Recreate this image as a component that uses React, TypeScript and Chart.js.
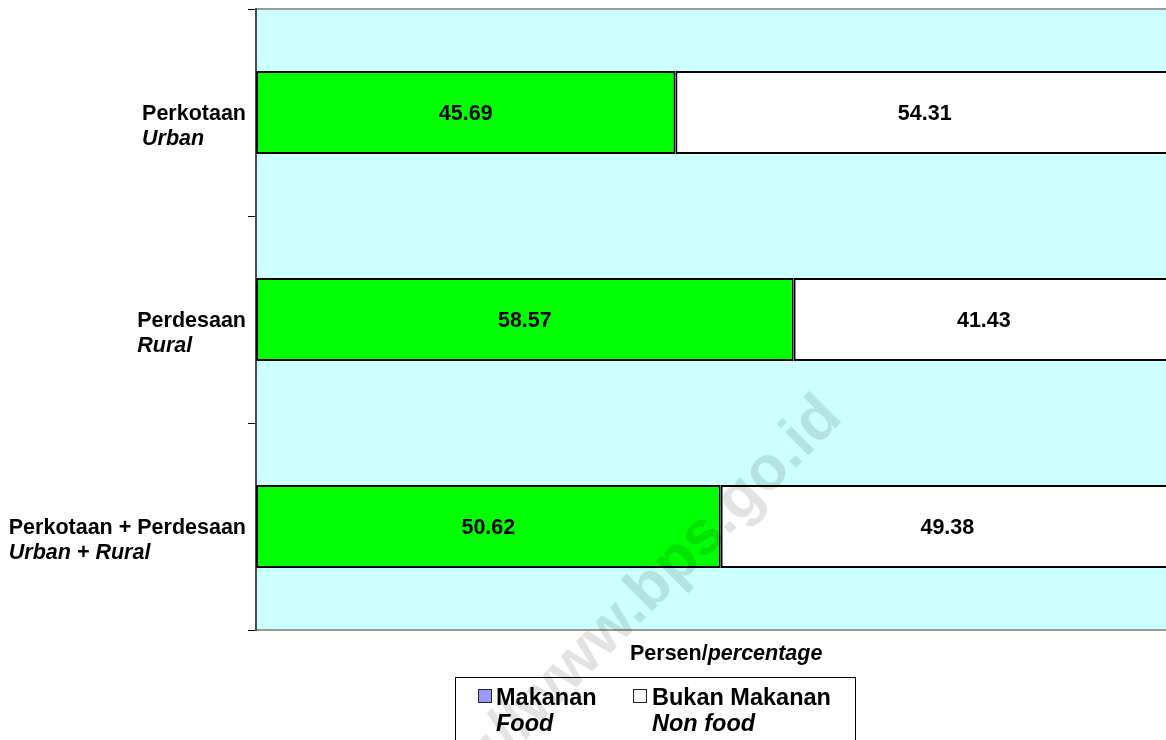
import React, { useEffect, useRef } from "react";
import { Chart, registerables } from "chart.js";

Chart.register(...registerables);

const categoriesMain = ["Perkotaan", "Perdesaan", "Perkotaan + Perdesaan"];
const categoriesSub = ["Urban", "Rural", "Urban + Rural"];
const foodValues = [45.69, 58.57, 50.62];
const nonFoodValues = [54.31, 41.43, 49.38];
const seriesMain = ["Makanan", "Bukan Makanan"];
const seriesSub = ["Food", "Non food"];
const axisTitleMain = "Persen/";
const axisTitleSub = "percentage";
const watermarkText = "http://www.bps.go.id";

const FONT = "'Liberation Sans', Arial, Helvetica, sans-serif";

const decorPlugin = {
  id: "decor",
  beforeDraw(chart: any) {
    const { ctx, chartArea } = chart;
    ctx.save();
    ctx.fillStyle = "#CCFFFF";
    ctx.fillRect(chartArea.left, chartArea.top, chartArea.right - chartArea.left, chartArea.bottom - chartArea.top);
    ctx.strokeStyle = "#999999";
    ctx.lineWidth = 2;
    ctx.beginPath();
    ctx.moveTo(chartArea.left, chartArea.top);
    ctx.lineTo(chartArea.right, chartArea.top);
    ctx.moveTo(chartArea.left, chartArea.bottom);
    ctx.lineTo(chartArea.right, chartArea.bottom);
    ctx.stroke();
    ctx.restore();
  },
  afterDatasetsDraw(chart: any) {
    const { ctx } = chart;
    ctx.save();
    ctx.font = `bold 21.5px ${FONT}`;
    ctx.fillStyle = "#000";
    ctx.textAlign = "center";
    ctx.textBaseline = "alphabetic";
    chart.data.datasets.forEach((ds: any, di: number) => {
      const meta = chart.getDatasetMeta(di);
      meta.data.forEach((el: any, i: number) => {
        const cx = (el.x + el.base) / 2;
        ctx.fillText(Number(ds.data[i]).toFixed(2), cx, el.y + 7);
      });
    });
    ctx.restore();
  },
  afterDraw(chart: any) {
    const { ctx, scales } = chart;
    const y = scales.y;
    ctx.save();
    ctx.fillStyle = "#000";
    ctx.textBaseline = "alphabetic";
    ctx.textAlign = "left";
    // category labels
    categoriesMain.forEach((main, i) => {
      const cy = y.getPixelForValue(i);
      ctx.font = `bold 21.5px ${FONT}`;
      const w1 = ctx.measureText(main).width;
      ctx.font = `italic bold 21.5px ${FONT}`;
      const w2 = ctx.measureText(categoriesSub[i]).width;
      const left = 246 - Math.max(w1, w2);
      ctx.font = `bold 21.5px ${FONT}`;
      ctx.fillText(main, left, cy + 7);
      ctx.font = `italic bold 21.5px ${FONT}`;
      ctx.fillText(categoriesSub[i], left, cy + 32);
    });
    // axis title
    ctx.font = `bold 21.5px ${FONT}`;
    const tw = ctx.measureText(axisTitleMain).width;
    ctx.fillText(axisTitleMain, 630, 660);
    ctx.font = `italic bold 21.5px ${FONT}`;
    ctx.fillText(axisTitleSub, 630 + tw, 660);
    // legend
    ctx.strokeStyle = "#000";
    ctx.lineWidth = 1;
    ctx.strokeRect(455.5, 677.5, 400, 120);
    const markerX = [478, 633];
    const textX = [496, 652];
    const markerFill = ["#9999FF", "#FFFFFF"];
    for (let k = 0; k < 2; k++) {
      ctx.fillStyle = markerFill[k];
      ctx.fillRect(markerX[k], 689, 14, 14);
      ctx.strokeStyle = "#222";
      ctx.strokeRect(markerX[k] + 0.5, 689.5, 13, 13);
      ctx.fillStyle = "#000";
      ctx.font = `bold 23.5px ${FONT}`;
      ctx.fillText(seriesMain[k], textX[k], 705);
      ctx.font = `italic bold 23.5px ${FONT}`;
      ctx.fillText(seriesSub[k], textX[k], 731);
    }
    // watermark
    ctx.translate(642, 616);
    ctx.rotate(-Math.PI / 4);
    ctx.font = `bold 62px ${FONT}`;
    ctx.fillStyle = "rgba(0,0,0,0.11)";
    const pre = ctx.measureText("http://www").width + ctx.measureText(".").width / 2;
    ctx.fillText(watermarkText, -pre, 4);
    ctx.restore();
  },
};

export default function App() {
  const ref = useRef<HTMLCanvasElement | null>(null);
  useEffect(() => {
    if (!ref.current) return;
    const chart = new Chart(ref.current, {
      type: "bar",
      data: {
        labels: categoriesMain,
        datasets: [
          {
            label: seriesMain[0],
            data: foodValues,
            backgroundColor: "#00FF00",
            borderColor: "#000000",
            borderWidth: 2,
            borderSkipped: false,
            barPercentage: 0.4,
            categoryPercentage: 1,
          },
          {
            label: seriesMain[1],
            data: nonFoodValues,
            backgroundColor: "#FFFFFF",
            borderColor: "#000000",
            borderWidth: 2,
            borderSkipped: false,
            barPercentage: 0.4,
            categoryPercentage: 1,
          },
        ],
      },
      options: {
        indexAxis: "y",
        responsive: false,
        animation: false,
        layout: { padding: { top: 9, bottom: 110, left: 0, right: 1 } },
        plugins: { legend: { display: false }, tooltip: { enabled: false } },
        scales: {
          x: { stacked: true, min: 0, max: 100, display: false },
          y: {
            stacked: true,
            afterFit: (s: any) => {
              s.width = 256;
            },
            ticks: { display: false },
            grid: { offset: true, drawOnChartArea: false, tickLength: 8, color: "#000", lineWidth: 1 },
            border: { display: true, color: "#4d4d4d", width: 2 },
          },
        },
      },
      plugins: [decorPlugin],
    } as any);
    return () => chart.destroy();
  }, []);
  return (
    <div style={{ position: "fixed", left: 0, top: 0, width: 1166, height: 740, overflow: "hidden", background: "#fff" }}>
      <canvas ref={ref} width={1175} height={740} style={{ display: "block" }} />
    </div>
  );
}
